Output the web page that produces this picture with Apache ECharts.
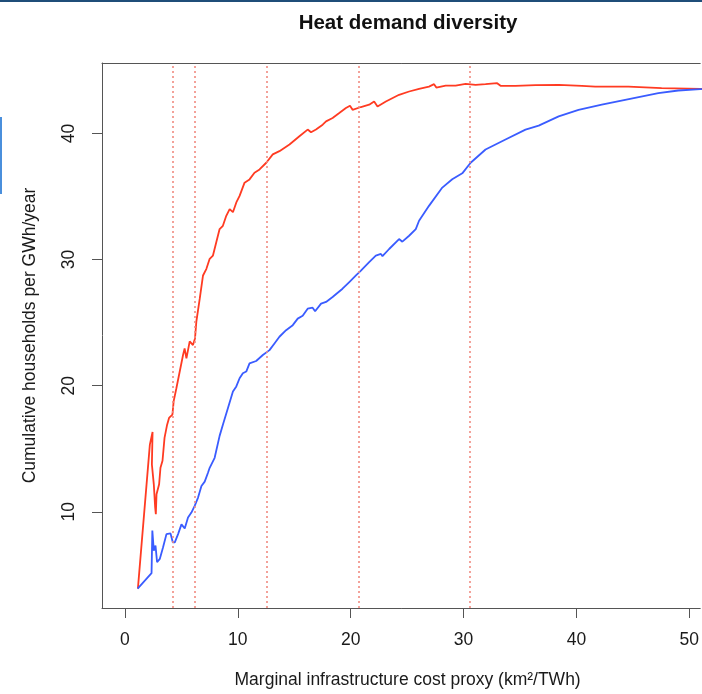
<!DOCTYPE html>
<html>
<head>
<meta charset="utf-8">
<script src="https://cdn.jsdelivr.net/npm/echarts@6/dist/echarts.min.js"></script>
<style>html,body{margin:0;padding:0;background:#fff}#c{width:702px;height:694px}</style>
</head>
<body>
<div id="c"></div>
<script>
// ---- data ----
var titleText = 'Heat demand diversity';
var xTitle = 'Marginal infrastructure cost proxy (km\u00B2/TWh)';
var yTitle = 'Cumulative households per GWh/year';
var xTicks = [0, 10, 20, 30, 40, 50];
var yTicks = [10, 20, 30, 40];
var cutoffs = [4.24, 6.18, 12.54, 20.76, 30.57];

var redX = [1.15, 2.21, 2.45, 2.39, 2.56, 2.68, 2.74, 2.80, 3.03, 3.15, 3.33, 3.51, 3.74, 3.91, 4.21, 4.32, 4.56, 5.15, 5.29, 5.45, 5.74, 6.03, 6.21, 6.33, 6.63, 6.92, 7.22, 7.51, 7.80, 8.10, 8.39, 8.68, 8.98, 9.28, 9.57, 9.87, 10.16, 10.60, 11.04, 11.48, 11.93, 12.52, 13.10, 13.69, 14.58, 15.46, 16.19, 16.49, 16.93, 17.52, 17.82, 18.40, 18.99, 19.58, 19.94, 20.17, 20.91, 21.64, 22.08, 22.38, 23.12, 24.29, 25.18, 26.06, 26.94, 27.39, 27.59, 28.42, 29.30, 30.19, 31.07, 31.95, 32.98, 33.28, 34.60, 36.37, 38.43, 40.49, 41.67, 44.61, 47.55, 50.97, 53.0];
var redY = [3.91, 15.33, 16.33, 13.75, 12.18, 10.34, 9.81, 11.39, 12.18, 13.49, 14.05, 15.86, 16.91, 17.44, 17.70, 18.78, 19.80, 22.43, 22.96, 22.17, 23.51, 23.22, 23.75, 25.09, 26.90, 28.74, 29.27, 30.06, 30.32, 31.40, 32.42, 32.68, 33.47, 34.00, 33.76, 34.53, 35.05, 36.10, 36.36, 36.89, 37.15, 37.68, 38.34, 38.60, 39.13, 39.78, 40.31, 40.10, 40.31, 40.70, 40.96, 41.23, 41.62, 42.02, 42.20, 41.88, 42.10, 42.28, 42.54, 42.14, 42.54, 43.07, 43.33, 43.54, 43.72, 43.91, 43.64, 43.80, 43.80, 43.94, 43.86, 43.91, 43.99, 43.78, 43.78, 43.83, 43.86, 43.78, 43.72, 43.72, 43.60, 43.54, 43.52];

var blueX = [1.13, 2.36, 2.43, 2.56, 2.71, 2.85, 3.09, 3.38, 3.68, 4.04, 4.24, 4.42, 4.71, 5.01, 5.30, 5.59, 5.89, 6.18, 6.48, 6.78, 7.07, 7.36, 7.51, 7.95, 8.39, 8.68, 9.13, 9.57, 9.87, 10.16, 10.45, 10.75, 11.04, 11.63, 12.22, 12.81, 13.25, 13.69, 14.28, 14.87, 15.31, 15.75, 16.19, 16.63, 16.85, 17.38, 17.82, 18.40, 19.28, 19.88, 20.47, 20.91, 21.64, 22.23, 22.68, 22.82, 23.41, 24.29, 24.58, 25.18, 25.77, 26.06, 26.94, 28.12, 29.00, 29.89, 30.63, 31.95, 33.72, 35.49, 36.66, 38.43, 40.19, 42.25, 44.32, 47.26, 49.03, 50.97, 53.0];
var blueY = [3.91, 5.13, 8.52, 6.92, 7.32, 6.00, 6.26, 7.18, 8.23, 8.29, 7.58, 7.58, 8.23, 9.00, 8.68, 9.55, 9.94, 10.47, 11.13, 12.05, 12.39, 13.10, 13.49, 14.28, 16.02, 16.91, 18.23, 19.54, 19.94, 20.59, 20.99, 21.12, 21.77, 21.96, 22.43, 22.82, 23.35, 23.88, 24.40, 24.80, 25.32, 25.54, 26.11, 26.19, 25.90, 26.51, 26.64, 27.03, 27.69, 28.22, 28.74, 29.13, 29.80, 30.32, 30.45, 30.27, 30.84, 31.63, 31.42, 31.89, 32.42, 33.08, 34.26, 35.71, 36.37, 36.84, 37.68, 38.73, 39.52, 40.31, 40.62, 41.36, 41.88, 42.28, 42.67, 43.20, 43.41, 43.52, 43.56];

function zip(xs, ys) { return xs.map(function (x, i) { return [x, ys[i]]; }); }

var FONT = "'Liberation Sans', Arial, Helvetica, sans-serif";
var AXIS = '#555555';
var TXT = '#1a1a1a';
var FS = 17.5;

var chart = echarts.init(document.getElementById('c'), null, { renderer: 'canvas' });
chart.setOption({
  animation: false,
  backgroundColor: '#ffffff',
  title: {
    text: titleText, left: 403, top: 8, textAlign: 'center',
    textStyle: { fontFamily: FONT, fontSize: 20.5, fontWeight: 'bold', color: '#111' }
  },
  graphic: [
    { type: 'rect', left: 0, top: 0, shape: { width: 702, height: 2 }, style: { fill: '#1f4e79' }, silent: true },
    { type: 'rect', left: 0, top: 117, shape: { width: 2, height: 77 }, style: { fill: '#4a8fdc' }, silent: true }
  ],
  grid: { left: 102, top: 63, right: 0, bottom: 83, containLabel: false },
  xAxis: [{
    type: 'value', min: -2.03, max: 50.97, position: 'bottom',
    splitLine: { show: false },
    axisLine: { show: true, onZero: false, lineStyle: { color: AXIS, width: 1 } },
    axisTick: { show: true, length: 10, inside: false, customValues: xTicks, lineStyle: { color: AXIS } },
    axisLabel: { customValues: xTicks, margin: 23, fontFamily: FONT, fontSize: FS, color: TXT },
    name: xTitle, nameLocation: 'middle', nameGap: 63,
    nameTextStyle: { fontFamily: FONT, fontSize: FS, color: TXT, padding: [0, 0, 0, 13] }
  }, {
    type: 'value', min: -2.03, max: 50.97, position: 'top',
    splitLine: { show: false },
    axisLine: { show: true, onZero: false, lineStyle: { color: AXIS, width: 1 } },
    axisTick: { show: false }, axisLabel: { show: false }
  }],
  yAxis: {
    type: 'value', min: 2.37, max: 45.59,
    splitLine: { show: false },
    axisLine: { show: true, onZero: false, lineStyle: { color: AXIS, width: 1 } },
    axisTick: { show: true, length: 10, customValues: yTicks, lineStyle: { color: AXIS } },
    axisLabel: { customValues: yTicks, rotate: 90, margin: 24, fontFamily: FONT, fontSize: FS, color: TXT },
    name: yTitle, nameLocation: 'middle', nameGap: 63, nameRotate: 90,
    nameTextStyle: { fontFamily: FONT, fontSize: FS, color: TXT }
  },
  series: [{
    type: 'line', name: 'red', data: zip(redX, redY), showSymbol: false, symbol: 'none',
    lineStyle: { color: '#ff3b22', width: 1.8 }, clip: true,
    markLine: {
      silent: true, symbol: ['none', 'none'], label: { show: false },
      lineStyle: { color: '#f08a80', type: [2, 3], width: 1.6 },
      data: cutoffs.map(function (v) { return { xAxis: v }; })
    }
  }, {
    type: 'line', name: 'blue', data: zip(blueX, blueY), showSymbol: false, symbol: 'none',
    lineStyle: { color: '#3a5cff', width: 1.8 }, clip: true
  }]
});
</script>
</body>
</html>
